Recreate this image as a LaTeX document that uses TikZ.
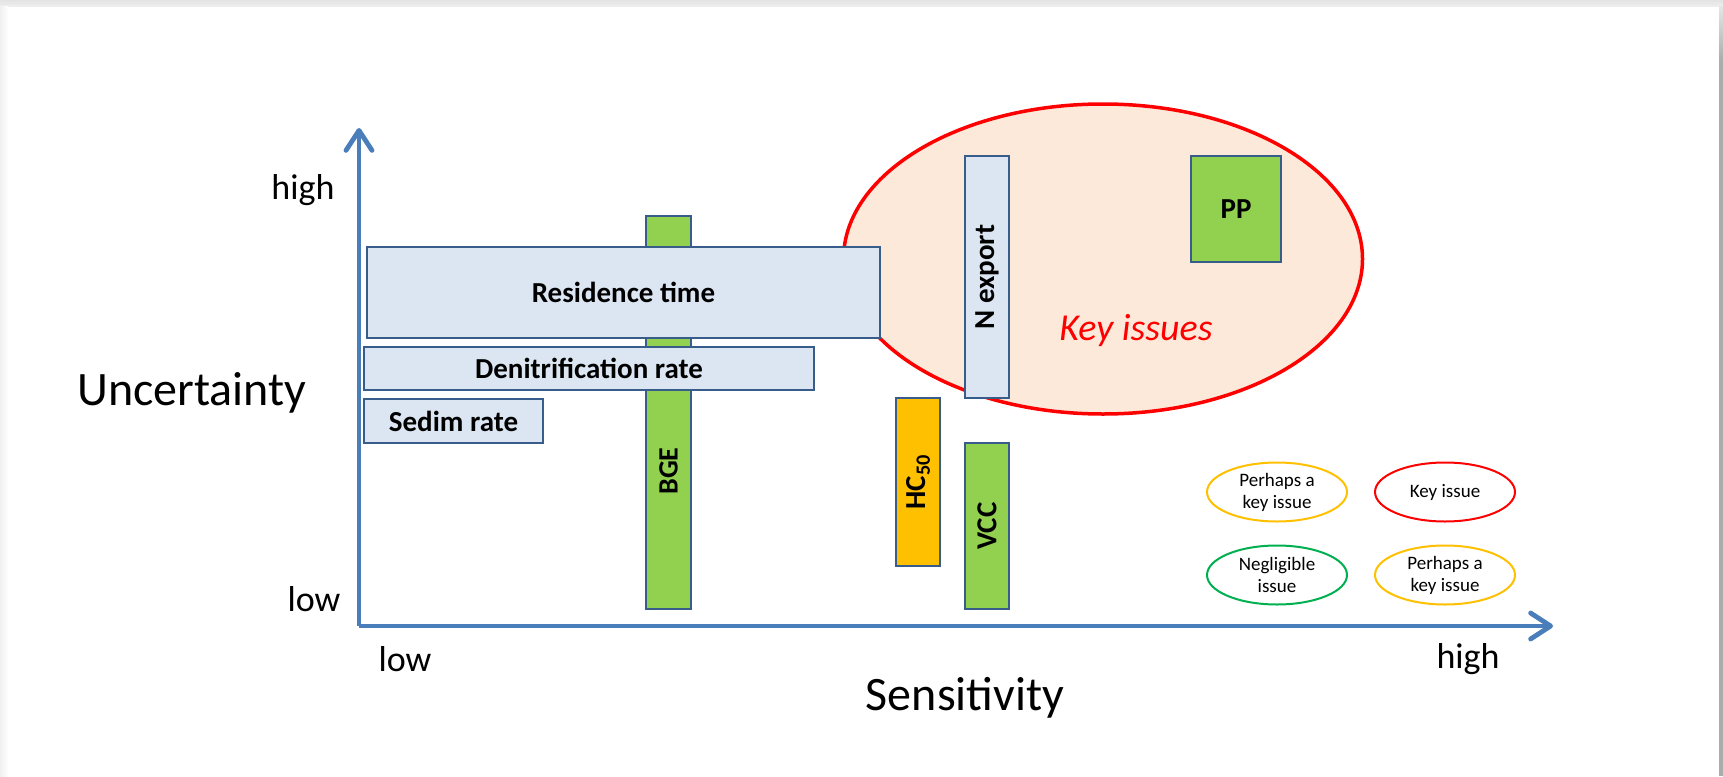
\documentclass[tikz,border=0pt]{standalone}
\usepackage{fontspec}
\setmainfont{Carlito}
\usetikzlibrary{arrows.meta,shapes.geometric}
\definecolor{axisblue}{HTML}{4A7EBB}
\definecolor{boxline}{HTML}{385D8A}
\definecolor{boxfill}{HTML}{DCE6F2}
\definecolor{barg}{HTML}{92D050}
\definecolor{baro}{HTML}{FFC000}
\definecolor{peach}{HTML}{FDE9D9}
\definecolor{keyred}{HTML}{FF0000}
\definecolor{leggreen}{HTML}{00B050}
\begin{document}
\begin{tikzpicture}[x=1pt,y=-1pt,
  axis/.style={draw=axisblue,line width=4.8pt,-{Straight Barb[length=20pt,width=26pt,round]}},
  axlab/.style={font=\fontsize{36}{40}\selectfont,inner sep=0pt},
  axtitle/.style={font=\fontsize{48}{54}\selectfont,inner sep=0pt},
  rbox/.style={draw=boxline,fill=boxfill,line width=2.2pt,inner sep=0pt,font=\fontsize{29}{34}\selectfont\bfseries},
  gbar/.style={draw=boxline,fill=barg,line width=2.2pt,inner sep=0pt,font=\fontsize{29}{34}\selectfont\bfseries},
  vlab/.style={font=\fontsize{28}{33}\selectfont\bfseries,inner sep=0pt,rotate=90},
  legell/.style={ellipse,draw,line width=2pt,fill=white,inner sep=0pt,minimum width=140pt,minimum height=59pt,align=center,font=\fontsize{19}{22}\selectfont}
]
\useasboundingbox (0,0) rectangle (1723,776);
% frame
\fill[white] (0,0) rectangle (1723,776);
\shade[top color=gray!22,bottom color=gray!12] (0,0) rectangle (1723,7);
\shade[left color=gray!12,right color=white] (0,7) rectangle (8,776);
\shade[top color=gray!20,bottom color=gray!65] (1719,7) rectangle (1723,60);
\fill[gray!65] (1719,60) rectangle (1723,776);

% key issue area
\node[ellipse,draw=keyred,fill=peach,line width=3.5pt,inner sep=0pt,minimum width=519pt,minimum height=310pt] (keyarea) at (1103,259) {};
\node[font=\fontsize{38}{42}\selectfont\itshape,text=keyred,inner sep=0pt] (keytxt) at (1136,330) {Key issues};

% BGE bar
\node[gbar,minimum width=45pt,minimum height=393pt] (bge) at (668.5,412.5) {};
\node[vlab] (bgetxt) at (668.5,471) {BGE};

% horizontal boxes
\node[rbox,minimum width=513pt,minimum height=91pt] (res) at (623.5,292.5) {Residence time};
\node[rbox,minimum width=450pt,minimum height=43pt] (den) at (589,368.5) {Denitrification rate};
\node[rbox,minimum width=179pt,minimum height=44pt] (sed) at (453.5,421) {Sedim rate};

% vertical boxes
\node[rbox,rotate=90,minimum width=242pt,minimum height=44pt] (nexp) at (987,277) {N export};
\node[gbar,minimum width=90pt,minimum height=106pt] (pp) at (1236,209) {PP};
\node[draw=boxline,fill=baro,line width=2.2pt,inner sep=0pt,rotate=90,minimum width=168pt,minimum height=44pt,font=\fontsize{29}{34}\selectfont\bfseries] (hc) at (918,482) {HC\textsubscript{50}};
\node[gbar,rotate=90,minimum width=166pt,minimum height=44pt] (vcc) at (987,526) {VCC};

% legend
\node[legell,draw=baro] (leg1) at (1277,492) {Perhaps a\\key issue};
\node[legell,draw=keyred] (leg2) at (1445,492) {Key issue};
\node[legell,draw=leggreen] (leg3) at (1277,575) {Negligible\\issue};
\node[legell,draw=baro] (leg4) at (1445,575) {Perhaps a\\key issue};

% axes
\coordinate (O) at (359,626);
\coordinate (ytip) at (359,128);
\coordinate (xtip) at (1553,626);
\draw[axis] (O) -- (ytip);
\draw[axis] (O) -- (xtip);

% axis labels
\node[axlab] (yhigh) at (303,190) {high};
\node[axlab] (ylow) at (314,599) {low};
\node[axlab] (xlow) at (405,659) {low};
\node[axlab] (xhigh) at (1468,659) {high};
\node[axtitle] (ytitle) at (192,393) {Uncertainty};
\node[axtitle] (xtitle) at (965,698) {Sensitivity};
\end{tikzpicture}
\end{document}
